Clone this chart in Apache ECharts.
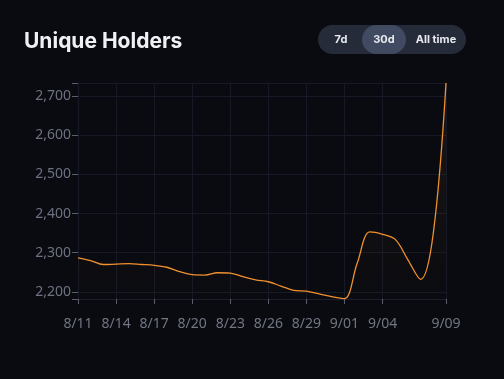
<!DOCTYPE html>
<html><head><meta charset="utf-8">
<script src="https://cdn.jsdelivr.net/npm/echarts@6/dist/echarts.min.js"></script>
<style>html,body{margin:0;padding:0;background:#0a0b10;}#c{width:504px;height:379px;}</style>
</head><body><div id="c"></div>
<script>
const categories = ['8/11','8/12','8/13','8/14','8/15','8/16','8/17','8/18','8/19','8/20','8/21','8/22','8/23','8/24','8/25','8/26','8/27','8/28','8/29','8/30','8/31','9/01','9/02','9/03','9/04','9/05','9/06','9/07','9/08','9/09'];
const holders = [2287,2280,2270,2271,2272,2270,2268,2263,2252,2244,2243,2249,2248,2239,2231,2226,2215,2204,2202,2195,2188,2183,2273,2353,2347,2334,2282,2232,2350,2733];
const yTicks = [2200,2300,2400,2500,2600,2700];
const shownLabels = ['8/11','8/14','8/17','8/20','8/23','8/26','8/29','9/01','9/04','9/09'];
const ranges = ['7d','30d','All time'];

const chart = echarts.init(document.getElementById('c'), null, {renderer:'canvas'});
const showIdx = (i) => shownLabels.indexOf(categories[i]) >= 0;
chart.setOption({
  backgroundColor:'#0a0b10',
  animation:false,
  title:{text:'Unique Holders', left:24, top:31, padding:0, textStyle:{color:'#f0f1f4', fontSize:21, fontWeight:'bold', fontFamily:'Inter'}},
  graphic:[
    {type:'rect', shape:{x:318, y:25, width:148, height:29, r:14.5}, style:{fill:'#262b39'}},
    {type:'rect', shape:{x:362, y:25, width:44, height:29, r:14.5}, style:{fill:'#404a60'}},
    {type:'text', x:341, y:39.5, style:{text:ranges[0], fill:'#e8eaef', font:'bold 11px Inter', align:'center', verticalAlign:'middle'}},
    {type:'text', x:384, y:39.5, style:{text:ranges[1], fill:'#e8eaef', font:'bold 11px Inter', align:'center', verticalAlign:'middle'}},
    {type:'text', x:436, y:39.5, style:{text:ranges[2], fill:'#e8eaef', font:'bold 11px Inter', align:'center', verticalAlign:'middle'}}
  ],
  grid:{left:78, right:58, top:83, bottom:80},
  xAxis:{
    type:'category', data:categories, boundaryGap:false,
    axisLine:{show:true, lineStyle:{color:'#1c1f2b'}},
    axisTick:{show:true, interval:(i)=>showIdx(i), length:5, lineStyle:{color:'#5a5e6a'}},
    axisLabel:{interval:(i)=>showIdx(i), color:'#727683', fontSize:14, margin:18, fontFamily:'Noto Sans'},
    splitLine:{show:true, interval:(i)=>showIdx(i), lineStyle:{color:'#171a26', width:1}}
  },
  yAxis:{
    type:'value', min:2182, max:2733,
    axisLine:{show:false},
    axisTick:{show:true, length:6, lineStyle:{color:'#5a5e6a'}},
    axisLabel:{color:'#6e7280', fontSize:14, margin:7, fontFamily:'Noto Sans',
      customValues: yTicks, formatter:(v)=>v.toLocaleString('en-US')},
    customValues: yTicks,
    splitLine:{show:true, lineStyle:{color:'#171a26', width:1}}
  },
  series:[{
    type:'line', data:holders, smooth:0.35, symbol:'none',
    lineStyle:{color:'#f0902e', width:1.3},
    areaStyle:{color:new echarts.graphic.LinearGradient(0,0,0,1,[{offset:0,color:'rgba(240,144,46,0.12)'},{offset:1,color:'rgba(240,144,46,0)'}])}
  }]
});
</script></body></html>
